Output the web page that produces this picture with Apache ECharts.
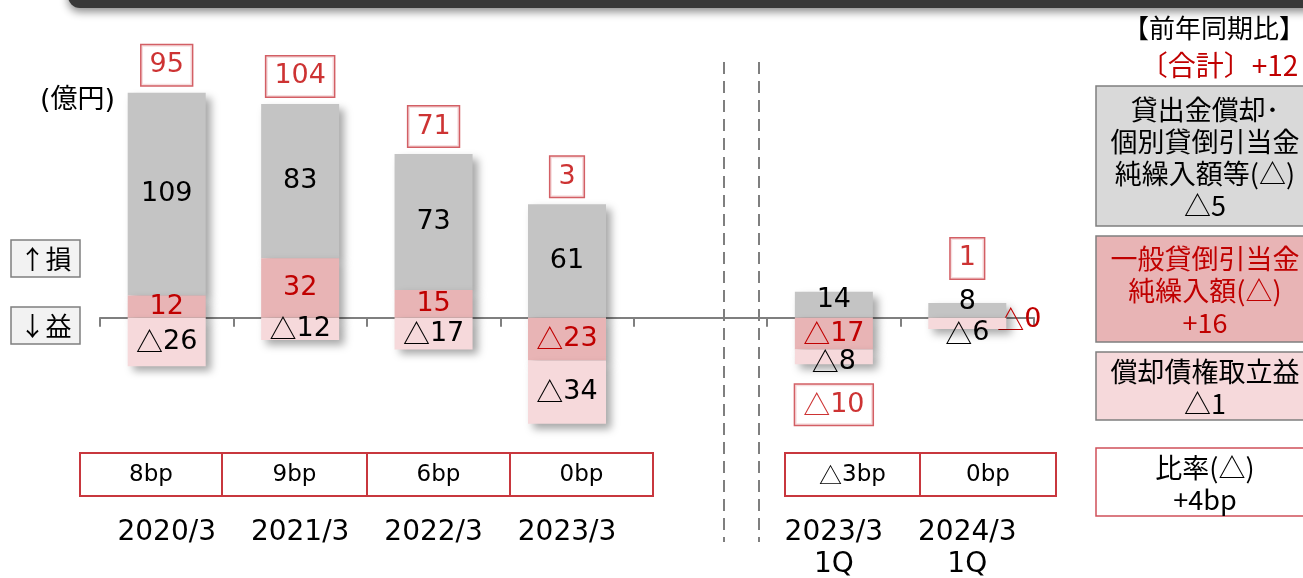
<!DOCTYPE html>
<html>
<head>
<meta charset="utf-8">
<script src="https://cdn.jsdelivr.net/npm/echarts@6/dist/echarts.min.js"></script>
<style>
html,body{margin:0;padding:0;background:#fff;}
#c{width:1303px;height:578px;}
</style>
</head>
<body>
<div id="c"></div>
<script>
// ---- data ----
const categories = ['2020/3', '2021/3', '2022/3', '2023/3', '', '2023/3\n1Q', '2024/3\n1Q'];
const writeOffs = [109, 83, 73, 61, null, 14, 8];          // 貸出金償却・個別貸倒引当金純繰入額等
const generalProvision = [12, 32, 15, -23, null, -17, 0];   // 一般貸倒引当金純繰入額
const recoveries = [-26, -12, -17, -34, null, -8, -6];      // 償却債権取立益
const totals = [95, 104, 71, 3, null, -10, 1];              // 合計
const bpLeft = ['8bp', '9bp', '6bp', '0bp'];
const bpRight = ['△3bp', '0bp'];
const panelTitle = '【前年同期比】';
const panelTotal = '〔合計〕+12';
const panelGrey = '貸出金償却･\n個別貸倒引当金\n純繰入額等(△)\n△5';
const panelRed = '一般貸倒引当金\n純繰入額(△)\n+16';
const panelPink = '償却債権取立益\n△1';
const panelRatio = '比率(△)\n+4bp';

const LATIN = '"DejaVu Sans", "Noto Sans CJK JP", sans-serif';
const CJK = '"Noto Sans CJK JP", sans-serif';
const RED = '#c00000';
const BOX_RED = '#c8373e';
const GREY = '#c4c4c4';
const PINK_DARK = '#e8b4b5';
const PINK_LIGHT = '#f6d9db';

// negative values are written with a leading △ (drawn from the CJK font)
const tri = s => s.replace(/△/g, '{t|△}');
const fmt = (v, zeroNeg) => ((v < 0 || (zeroNeg && v === 0)) ? '{t|△}' + Math.abs(v) : String(v));
const triRich = (size, color) => ({ t: { fontFamily: CJK, fontSize: size, color: color } });
const shadow = { shadowBlur: 8, shadowOffsetX: 5, shadowOffsetY: 5, shadowColor: 'rgba(0,0,0,0.35)' };

const greyOffsets = { 5: [0, -5], 6: [0, -8] };
const pinkOffsets = { 5: [0, 5], 6: [0, 10] };

const greyData = writeOffs.map((v, i) => v == null ? null : {
  value: v, label: greyOffsets[i] ? { offset: greyOffsets[i] } : undefined
});
const redData = generalProvision.map((v, i) => {
  if (v == null) return null;
  if (v === 0) return {
    value: v,
    itemStyle: { shadowColor: 'transparent' },
    label: { position: 'right', offset: [-14, 2] }
  };
  return { value: v };
});
const pinkData = recoveries.map((v, i) => v == null ? null : {
  value: v, label: pinkOffsets[i] ? { offset: pinkOffsets[i] } : undefined
});

const totalData = totals.map((t, i) => {
  if (t == null) return null;
  const posTop = (writeOffs[i] > 0 ? writeOffs[i] : 0) + (generalProvision[i] > 0 ? generalProvision[i] : 0);
  const negBot = (generalProvision[i] < 0 ? generalProvision[i] : 0) + (recoveries[i] < 0 ? recoveries[i] : 0);
  const pos = t >= 0;
  return {
    value: [i, pos ? posTop : negBot],
    label: { position: pos ? 'top' : 'bottom', distance: (i === 6 ? 24 : (pos ? 7 : 20)) }
  };
});

const chart = echarts.init(document.getElementById('c'), null, { renderer: 'canvas' });

const graphic = [];
// header bar
graphic.push({
  type: 'rect', z: 10,
  shape: { x: 68, y: -24, width: 1270, height: 32, r: 12 },
  style: { fill: '#383838', shadowBlur: 8, shadowOffsetY: 4, shadowColor: 'rgba(0,0,0,0.45)' }
});
// dashed separators
[724, 759].forEach(x => graphic.push({
  type: 'line', z: 1,
  shape: { x1: x, y1: 62, x2: x, y2: 542 },
  style: { stroke: '#7f7f7f', lineWidth: 2, lineDash: [12, 7] }
}));
// unit and direction boxes
graphic.push({
  type: 'text', style: { text: '(億円)', x: 40, y: 101, font: '27px ' + LATIN, fill: '#000', textVerticalAlign: 'middle' }
});
[['↑損', 240], ['↓益', 307]].forEach(([t, y]) => {
  graphic.push({
    type: 'rect', shape: { x: 11, y: y, width: 69, height: 37 },
    style: { fill: '#f2f2f2', stroke: '#7f7f7f', lineWidth: 1.5 }
  });
  graphic.push({
    type: 'text', style: { text: t, x: 45.5, y: y + 19, font: '26px ' + CJK, fill: '#000', textAlign: 'center', textVerticalAlign: 'middle' }
  });
});
// bp table
function bpGroup(x0, widths, labels) {
  let x = x0;
  widths.forEach((w, i) => {
    graphic.push({
      type: 'rect', shape: { x: x, y: 453, width: w, height: 43 },
      style: { fill: '#fff', stroke: BOX_RED, lineWidth: 2 }
    });
    graphic.push({
      type: 'text', style: {
        text: tri(labels[i]), x: x + w / 2, y: 475, fontSize: 23, fontFamily: LATIN, fill: '#000',
        textAlign: 'center', textVerticalAlign: 'middle',
        rich: { t: { fontFamily: CJK, fontSize: 23, fill: '#000' } }
      }
    });
    x += w;
  });
}
bpGroup(80, [142, 145, 143, 143], bpLeft);
bpGroup(785, [135, 136], bpRight);
// right panel
graphic.push({
  type: 'text', style: { text: panelTitle, x: 1214, y: 28, font: '26px ' + CJK, fill: '#000', textAlign: 'center', textVerticalAlign: 'middle' }
});
graphic.push({
  type: 'text', style: { text: panelTotal, x: 1219, y: 65, font: '28px ' + CJK, fill: RED, textAlign: 'center', textVerticalAlign: 'middle' }
});
function panelBox(y, h, fill, stroke, text, color, cy) {
  graphic.push({
    type: 'rect', shape: { x: 1096, y: y, width: 230, height: h },
    style: { fill: fill, stroke: stroke, lineWidth: 1.5 }
  });
  graphic.push({
    type: 'text', style: { text: text, x: 1205, y: cy, font: '27px ' + CJK, fill: color, textAlign: 'center', textVerticalAlign: 'middle', lineHeight: 32 }
  });
}
panelBox(86, 140, '#d9d9d9', '#7f7f7f', panelGrey, '#000', 158);
panelBox(236, 106, PINK_DARK, '#7f7f7f', panelRed, RED, 291);
panelBox(352, 68, PINK_LIGHT, '#7f7f7f', panelPink, '#000', 388);
panelBox(448, 68, '#fff', '#d0505a', panelRatio, '#000', 484);

const segLabel = (color, zeroNeg) => ({
  show: true, position: 'inside', color: color, fontSize: 27, fontFamily: LATIN,
  rich: triRich(27, color),
  formatter: p => fmt(p.value, zeroNeg)
});

chart.setOption({
  animation: false,
  backgroundColor: '#fff',
  grid: { left: 100, right: 269, top: 76, height: 372, containLabel: false, outerBoundsMode: 'none' },
  xAxis: [{
    type: 'category', data: categories,
    axisLine: { onZero: true, lineStyle: { color: '#7f7f7f', width: 2 } },
    axisTick: { show: true, length: 9, lineStyle: { color: '#7f7f7f', width: 2 } },
    axisLabel: { show: false }
  }, {
    type: 'category', data: categories, position: 'bottom',
    axisLine: { show: false, onZero: false }, axisTick: { show: false },
    axisLabel: { show: true, interval: 0, margin: 69, color: '#000', fontSize: 28, fontFamily: LATIN, lineHeight: 32 }
  }],
  yAxis: { type: 'value', min: -70, max: 130, show: false, splitLine: { show: false } },
  series: [{
    name: '一般貸倒引当金純繰入額', type: 'bar', stack: 'a', z: 3, barWidth: 78,
    data: redData, itemStyle: Object.assign({ color: PINK_DARK }, shadow),
    label: segLabel(RED, true)
  }, {
    name: '貸出金償却・個別貸倒引当金純繰入額等', type: 'bar', stack: 'a', z: 2, barWidth: 78,
    data: greyData, itemStyle: Object.assign({ color: GREY }, shadow),
    label: segLabel('#000', false)
  }, {
    name: '償却債権取立益', type: 'bar', stack: 'a', z: 4, barWidth: 78,
    data: pinkData, itemStyle: Object.assign({ color: PINK_LIGHT }, shadow),
    label: segLabel('#000', false)
  }, {
    name: '合計', type: 'scatter', z: 6, symbolSize: 1, itemStyle: { color: 'rgba(0,0,0,0)' },
    data: totalData,
    label: {
      show: true, color: RED, fontSize: 27, fontFamily: LATIN, lineHeight: 30,
      backgroundColor: '#fff', borderColor: BOX_RED, borderWidth: 1.5, padding: [5, 8],
      rich: { t: { fontFamily: CJK, fontSize: 27, color: RED, lineHeight: 30 } },
      formatter: p => fmt(totals[p.dataIndex], false)
    }
  }],
  graphic: graphic
});
</script>
</body>
</html>
